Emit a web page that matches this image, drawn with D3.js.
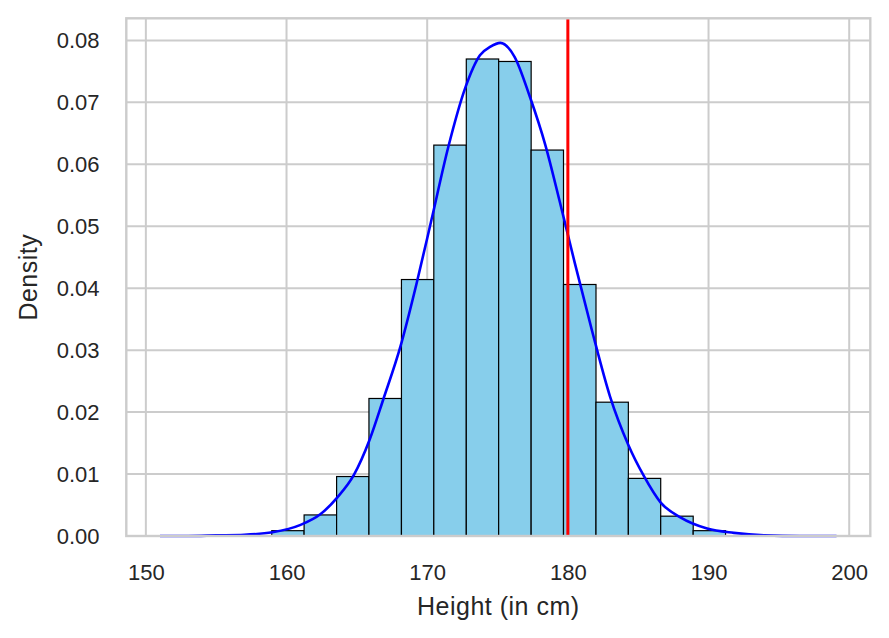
<!DOCTYPE html>
<meta charset="utf-8">
<head>
    <title>Height density</title>
    <script src="https://d3js.org/d3.v7.min.js"></script>
    <style>
        body { margin: 0; background: #ffffff; }
        text { font-family: "Liberation Sans", Arial, sans-serif; fill: #262626; }
    </style>
</head>
<body>
<svg width="889" height="638"></svg>
<script>
// histogram bins (edges) and density per bin
var binEdges = [158.95, 161.25, 163.56, 165.86, 168.17, 170.47, 172.78, 175.08,
                177.39, 179.69, 182.0, 184.3, 186.6, 188.91, 191.21];
var binDensity = [0.00086, 0.0034, 0.0096, 0.0222, 0.0414, 0.0631, 0.0770,
                  0.0766, 0.0623, 0.0406, 0.0216, 0.0093, 0.0032, 0.00086];

// kde curve samples
var kdeX = [151.0, 153.0, 155.0, 157.0, 159.0, 161.0, 162.4, 163.6, 164.8, 165.9,
            166.9, 168.1, 169.25, 170.3, 171.5, 172.7, 173.75, 174.5, 175.2, 176.2,
            177.3, 178.4, 179.4, 180.5, 181.7, 183.0, 184.3, 185.4, 186.6, 188.0,
            189.9, 191.8, 194.0, 196.5, 199.1];
var kdeY = [0.0000, 0.0000, 0.0001, 0.0002, 0.0006, 0.0018, 0.0035, 0.0062, 0.0099, 0.0155,
            0.0222, 0.0306, 0.0408, 0.0510, 0.0628, 0.0723, 0.0776, 0.0790, 0.0796, 0.0774,
            0.0709, 0.0631, 0.0542, 0.0440, 0.0333, 0.0225, 0.0147, 0.0097, 0.0054, 0.0030,
            0.0012, 0.0005, 0.0001, 0.0000, 0.0000];

var markerX = 180;

var xTicks = [150, 160, 170, 180, 190, 200];
var yTicks = [0, 0.01, 0.02, 0.03, 0.04, 0.05, 0.06, 0.07, 0.08];

var svg = d3.select("svg"),
    plotL = 126.3, plotR = 870.3, plotT = 18.3, plotB = 536;

var x = d3.scaleLinear().domain([148.61, 201.5]).range([plotL, plotR]);
var y = d3.scaleLinear().domain([0, 0.08357]).range([plotB, plotT]);

// grid
var grid = svg.append("g").attr("stroke", "#cccccc").attr("stroke-width", 2);
grid.selectAll(".vx").data(xTicks).enter().append("line")
    .attr("x1", function(d) { return x(d); }).attr("x2", function(d) { return x(d); })
    .attr("y1", plotT).attr("y2", plotB);
grid.selectAll(".hy").data(yTicks).enter().append("line")
    .attr("x1", plotL).attr("x2", plotR)
    .attr("y1", function(d) { return y(d); }).attr("y2", function(d) { return y(d); });

// bars
svg.append("g").selectAll("rect")
    .data(binDensity)
    .enter().append("rect")
    .attr("x", function(d, i) { return x(binEdges[i]); })
    .attr("width", function(d, i) { return x(binEdges[i + 1]) - x(binEdges[i]); })
    .attr("y", function(d) { return y(d); })
    .attr("height", function(d) { return y(0) - y(d); })
    .attr("fill", "#87ceeb")
    .attr("stroke", "#000000")
    .attr("stroke-width", 1.2);

// kde
var line = d3.line()
    .x(function(d) { return x(d[0]); })
    .y(function(d) { return y(d[1]); })
    .curve(d3.curveMonotoneX);

svg.append("path")
    .datum(d3.zip(kdeX, kdeY))
    .attr("d", line)
    .attr("fill", "none")
    .attr("stroke", "#0000ff")
    .attr("stroke-width", 2.6);

// vertical marker
svg.append("line")
    .attr("x1", x(markerX)).attr("x2", x(markerX))
    .attr("y1", plotT).attr("y2", plotB)
    .attr("stroke", "#ff0000")
    .attr("stroke-width", 3);

// spines
svg.append("rect")
    .attr("x", plotL).attr("y", plotT)
    .attr("width", plotR - plotL).attr("height", plotB - plotT)
    .attr("fill", "none")
    .attr("stroke", "#cccccc")
    .attr("stroke-width", 2.4);

// axes (labels only, seaborn whitegrid has no visible ticks)
var xAxis = svg.append("g")
    .attr("transform", "translate(0," + plotB + ")")
    .call(d3.axisBottom(x).tickValues(xTicks).tickSize(0).tickPadding(28.4).tickFormat(d3.format("d")));
var yAxis = svg.append("g")
    .attr("transform", "translate(" + plotL + ",0)")
    .call(d3.axisLeft(y).tickValues(yTicks).tickSize(0).tickPadding(26.8).tickFormat(d3.format(".2f")));

[xAxis, yAxis].forEach(function(a) {
    a.select(".domain").remove();
    a.selectAll("text")
        .attr("fill", "#262626")
        .style("font-size", "22px")
        .style("font-family", "'Liberation Sans', Arial, sans-serif");
});

svg.append("text")
    .attr("x", (plotL + plotR) / 2)
    .attr("y", 615)
    .attr("text-anchor", "middle")
    .style("font-size", "25px")
    .style("letter-spacing", "0.5px")
    .text("Height (in cm)");

svg.append("text")
    .attr("transform", "translate(37," + (plotT + plotB) / 2 + ") rotate(-90)")
    .attr("text-anchor", "middle")
    .style("font-size", "25px")
    .style("letter-spacing", "0.5px")
    .text("Density");
</script>
</body>
